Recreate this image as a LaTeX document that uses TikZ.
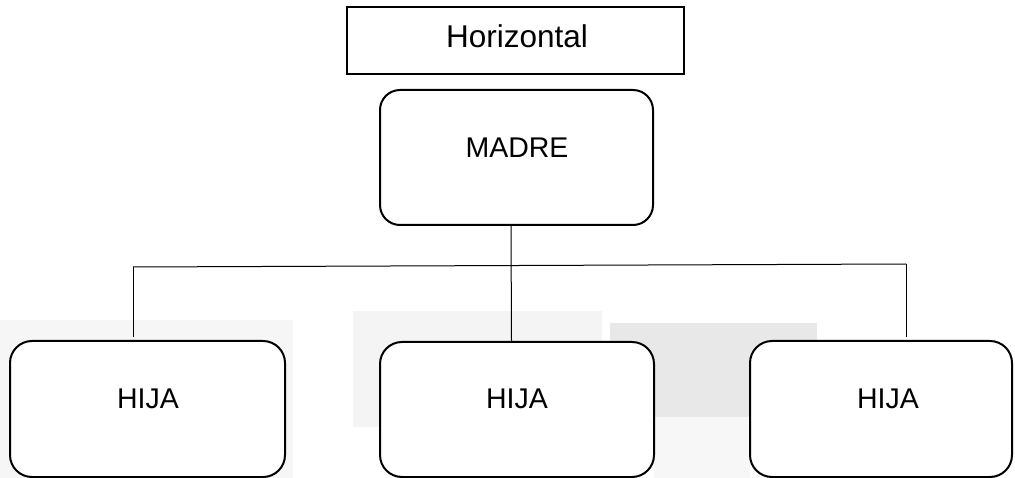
\documentclass[tikz,border=0pt]{standalone}
\usepackage{fontspec}
\setmainfont{Liberation Sans}
\begin{document}
\begin{tikzpicture}[x=1pt,y=-1pt,
  titlebox/.style={draw=black,line width=2pt,fill=white,inner sep=0pt},
  orgbox/.style={draw=black,line width=2pt,fill=white,rounded corners=22pt,inner sep=0pt},
  boxtext/.style={inner sep=0pt,font=\fontsize{28.5}{34}\selectfont},
  titletext/.style={inner sep=0pt,font=\fontsize{31.5}{38}\selectfont},
  conn/.style={draw=black,line width=1pt},
  haze/.style={draw=none}]
\useasboundingbox (0,0) rectangle (1015,478);
\fill[white] (0,0) rectangle (1015,478);

% faint background shading behind the lower row
\fill[haze,fill=black!3.5] (0,320) rectangle (293,478);
\fill[haze,fill=black!4.5] (353,311) rectangle (602,427);
\fill[haze,fill=black!9] (610,323) rectangle (817,417);
\fill[haze,fill=black!3] (654,417) rectangle (750,478);

% boxes
\node[titlebox,minimum width=337pt,minimum height=67pt] (title) at (515.5,40.5) {};
\node[orgbox,rounded corners=20pt,minimum width=273pt,minimum height=135pt] (madre) at (516.5,157.5) {};
\node[orgbox,minimum width=275pt,minimum height=136pt] (hija1) at (147.5,409) {};
\node[orgbox,minimum width=274pt,minimum height=135pt] (hija2) at (517,409.5) {};
\node[orgbox,minimum width=262pt,minimum height=136pt] (hija3) at (881,409) {};

% labels
\node[titletext] (titlelabel) at (517,36.5) {Horizontal};
\node[boxtext] (madrelabel) at (517,148) {MADRE};
\node[boxtext] (hija1label) at (148,399) {HIJA};
\node[boxtext] (hija2label) at (517,399) {HIJA};
\node[boxtext] (hija3label) at (888,399) {HIJA};

% connectors
\coordinate (busL) at (133,267);
\coordinate (busR) at (906,264);
\draw[conn] ([xshift=-5.5pt]madre.south) -- ([xshift=-5.5pt]hija2.north);
\draw[conn] (busL) -- (busR);
\draw[conn,shorten >=3pt] (busL) -- (busL |- hija1.north);
\draw[conn,shorten >=3pt] (busR) -- (busR |- hija3.north);
\end{tikzpicture}
\end{document}
